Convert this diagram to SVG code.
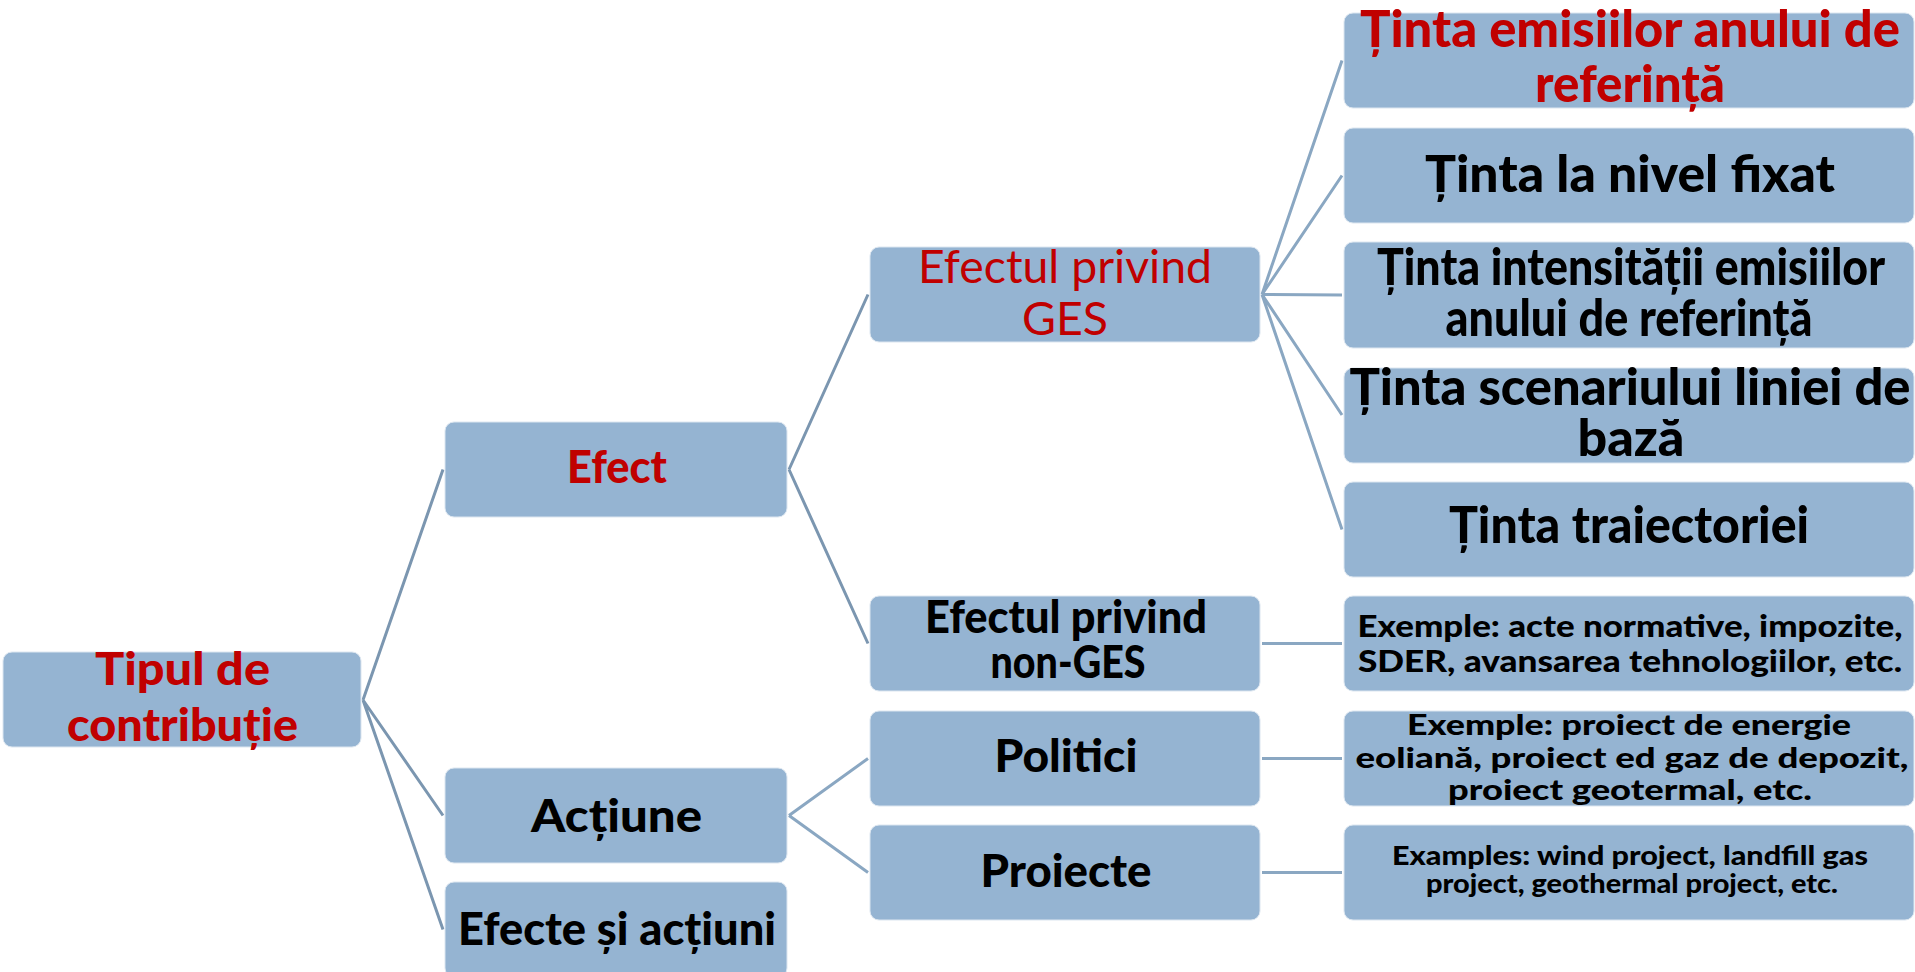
<svg xmlns="http://www.w3.org/2000/svg" width="1915" height="972" viewBox="0 0 1915 972">
<style>
.box{fill:#95b4d2;stroke:#dce6f0;stroke-width:1}
.ln{stroke:#8aa7c2;stroke-width:3;fill:none}
.ln0{stroke:#7b96b0;stroke-width:3;fill:none}
text{font-family:Lato,"Liberation Sans","DejaVu Sans",sans-serif;text-anchor:middle;font-weight:900;fill:#000}
.r{fill:#c00000}
.reg{font-weight:normal}
.f46{font-size:46px}
.f52{font-size:52px}
.f31{font-size:31px}
.f29{font-size:29px}
.f26{font-size:26px}
</style>
<rect width="1915" height="972" fill="#ffffff"/>
<g id="connectors">
<path class="ln0" d="M363,700 L443,469.5 M363,700 L443,815.5 M363,700 L443,929.5"/>
<path class="ln0" d="M789,469.5 L868,294.5 M789,469.5 L868,643.5"/>
<path class="ln" d="M789,815.5 L868,758.5 M789,815.5 L868,872.5"/>
<path class="ln" d="M1262,294.5 L1342,60.5 M1262,294.5 L1342,175.5 M1262,294.5 L1342,295 M1262,294.5 L1342,415 M1262,294.5 L1342,529.5"/>
<path class="ln" d="M1262,643.5 L1342,643.5 M1262,758.5 L1342,758.5 M1262,872.5 L1342,872.5"/>
</g>
<g id="n-root"><rect class="box" x="3" y="652" width="358" height="95" rx="9"/>
<text class="r f46" x="182.5" y="685" textLength="175" lengthAdjust="spacingAndGlyphs">Tipul de</text>
<text class="r f46" x="182.5" y="741" textLength="231" lengthAdjust="spacingAndGlyphs">contribuție</text></g>
<g id="n-efect"><rect class="box" x="445" y="422" width="342" height="95" rx="9"/>
<text class="r f46" x="617" y="483" textLength="100" lengthAdjust="spacingAndGlyphs">Efect</text></g>
<g id="n-actiune"><rect class="box" x="445" y="768" width="342" height="95" rx="9"/>
<text class="f46" x="616.5" y="832" textLength="171" lengthAdjust="spacingAndGlyphs">Acțiune</text></g>
<g id="n-efecte-actiuni"><rect class="box" x="445" y="882" width="342" height="95" rx="9"/>
<text class="f46" x="617" y="945" textLength="318" lengthAdjust="spacingAndGlyphs">Efecte și acțiuni</text></g>
<g id="n-ges"><rect class="box" x="870" y="247" width="390" height="95" rx="9"/>
<text class="r reg f46" x="1065" y="283" textLength="294" lengthAdjust="spacingAndGlyphs">Efectul privind</text>
<text class="r reg f46" x="1065" y="335" textLength="86" lengthAdjust="spacingAndGlyphs">GES</text></g>
<g id="n-nonges"><rect class="box" x="870" y="596" width="390" height="95" rx="9"/>
<text class="f46" x="1066" y="633" textLength="282" lengthAdjust="spacingAndGlyphs">Efectul privind</text>
<text class="f46" x="1068" y="678" textLength="155" lengthAdjust="spacingAndGlyphs">non-GES</text></g>
<g id="n-politici"><rect class="box" x="870" y="711" width="390" height="95" rx="9"/>
<text class="f46" x="1066" y="772" textLength="143" lengthAdjust="spacingAndGlyphs">Politici</text></g>
<g id="n-proiecte"><rect class="box" x="870" y="825" width="390" height="95" rx="9"/>
<text class="f46" x="1066" y="887" textLength="171" lengthAdjust="spacingAndGlyphs">Proiecte</text></g>
<g id="n-t1"><rect class="box" x="1344" y="13" width="570" height="95" rx="9"/>
<text class="r f52" x="1630" y="47" textLength="540" lengthAdjust="spacingAndGlyphs">Ținta emisiilor anului de</text>
<text class="r f52" x="1630" y="102" textLength="190" lengthAdjust="spacingAndGlyphs">referință</text></g>
<g id="n-t2"><rect class="box" x="1344" y="128" width="570" height="95" rx="9"/>
<text class="f52" x="1630" y="192" textLength="410" lengthAdjust="spacingAndGlyphs">Ținta la nivel fixat</text></g>
<g id="n-t3"><rect class="box" x="1344" y="242" width="570" height="106" rx="9"/>
<text class="f52" x="1631" y="285" textLength="508" lengthAdjust="spacingAndGlyphs">Ținta intensității emisiilor</text>
<text class="f52" x="1629" y="336" textLength="367" lengthAdjust="spacingAndGlyphs">anului de referință</text></g>
<g id="n-t4"><rect class="box" x="1344" y="368" width="570" height="95" rx="9"/>
<text class="f52" x="1630" y="405" textLength="561" lengthAdjust="spacingAndGlyphs">Ținta scenariului liniei de</text>
<text class="f52" x="1631" y="456" textLength="107" lengthAdjust="spacingAndGlyphs">bază</text></g>
<g id="n-t5"><rect class="box" x="1344" y="482" width="570" height="95" rx="9"/>
<text class="f52" x="1629" y="543" textLength="360" lengthAdjust="spacingAndGlyphs">Ținta traiectoriei</text></g>
<g id="n-ex1"><rect class="box" x="1344" y="596" width="570" height="95" rx="9"/>
<text class="f31" x="1630" y="637" textLength="545" lengthAdjust="spacingAndGlyphs">Exemple: acte normative, impozite,</text>
<text class="f31" x="1630" y="672" textLength="544" lengthAdjust="spacingAndGlyphs">SDER, avansarea tehnologiilor, etc.</text></g>
<g id="n-ex2"><rect class="box" x="1344" y="711" width="570" height="95" rx="9"/>
<text class="f29" x="1629" y="735" textLength="444" lengthAdjust="spacingAndGlyphs">Exemple: proiect de energie</text>
<text class="f29" x="1632" y="768" textLength="553" lengthAdjust="spacingAndGlyphs">eoliană, proiect ed gaz de depozit,</text>
<text class="f29" x="1630" y="800" textLength="364" lengthAdjust="spacingAndGlyphs">proiect geotermal, etc.</text></g>
<g id="n-ex3"><rect class="box" x="1344" y="825" width="570" height="95" rx="9"/>
<text class="f26" x="1630" y="865" textLength="476" lengthAdjust="spacingAndGlyphs">Examples: wind project, landfill gas</text>
<text class="f26" x="1632" y="893" textLength="412" lengthAdjust="spacingAndGlyphs">project, geothermal project, etc.</text></g>
</svg>
